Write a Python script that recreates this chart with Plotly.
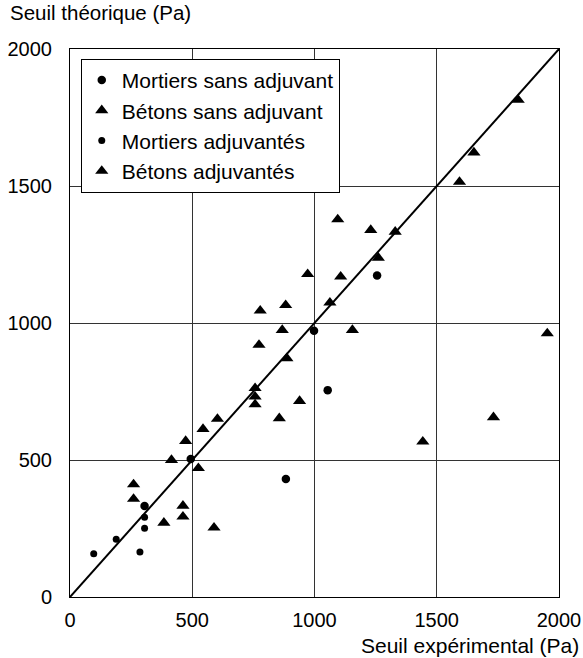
import plotly.graph_objects as go

# Mortiers sans adjuvant (large circles)
mortiers_sans_x = [305, 494, 883, 998, 1054, 1256]
mortiers_sans_y = [332, 504, 431, 972, 755, 1173]

# Mortiers adjuvantés (small circles)
mortiers_adj_x = [97, 189, 286, 305, 305]
mortiers_adj_y = [158, 211, 164, 251, 291]

# Bétons sans adjuvant (triangles)
betons_sans_x = [757, 757, 757, 773, 778, 882, 868, 887, 939, 856, 972, 1107, 1063,
                 1155, 1095, 1230, 1330, 1261, 1443, 1732, 1952, 1833, 1652, 1593]
betons_sans_y = [762, 731, 703, 920, 1045, 1065, 974, 871, 715, 652, 1178, 1169, 1074,
                 974, 1378, 1339, 1333, 1238, 567, 656, 962, 1814, 1622, 1515]

# Bétons adjuvantés (triangles)
betons_adj_x = [473, 415, 525, 260, 260, 462, 462, 384, 589, 544, 603]
betons_adj_y = [569, 500, 470, 411, 358, 333, 293, 271, 253, 613, 650]

ticks = [0, 500, 1000, 1500, 2000]
line_xy = [0, 2000]

FONT = "Liberation Sans, Arial, Helvetica, sans-serif"

fig = go.Figure()

fig.add_trace(go.Scatter(x=line_xy, y=line_xy, mode="lines",
                         line=dict(color="black", width=2), showlegend=False,
                         hoverinfo="skip"))

fig.add_trace(go.Scatter(x=mortiers_sans_x, y=mortiers_sans_y, mode="markers",
                         name="Mortiers sans adjuvant",
                         marker=dict(symbol="circle", size=8.5, color="black")))
fig.add_trace(go.Scatter(x=betons_sans_x, y=betons_sans_y, mode="markers",
                         name="Bétons sans adjuvant",
                         marker=dict(symbol="triangle-up", size=11.5, color="black")))
fig.add_trace(go.Scatter(x=mortiers_adj_x, y=mortiers_adj_y, mode="markers",
                         name="Mortiers adjuvantés",
                         marker=dict(symbol="circle", size=7, color="black")))
fig.add_trace(go.Scatter(x=betons_adj_x, y=betons_adj_y, mode="markers",
                         name="Bétons adjuvantés",
                         marker=dict(symbol="triangle-up", size=11.5, color="black")))

axis_common = dict(
    range=[0, 2000], tickvals=ticks, ticktext=[str(t) for t in ticks],
    showgrid=True, gridcolor="#333333", gridwidth=1,
    showline=True, linecolor="black", linewidth=1, mirror=True,
    zeroline=False, ticks="outside", tickcolor="rgba(0,0,0,0)",
    tickfont=dict(family=FONT, size=20, color="black"),
    automargin=False,
)

fig.update_xaxes(**axis_common, ticklen=5)
fig.update_yaxes(**axis_common, ticklen=13)

fig.update_layout(
    width=583, height=658,
    margin=dict(l=70, r=24, t=49, b=61),
    paper_bgcolor="white", plot_bgcolor="white",
    font=dict(family=FONT, size=20, color="black"),
    showlegend=True,
    legend=dict(x=0.022, y=0.982, xanchor="left", yanchor="top",
                bgcolor="white", bordercolor="black", borderwidth=1,
                font=dict(family=FONT, size=21, color="black"),
                itemsizing="trace"),
    annotations=[
        dict(text="Seuil théorique (Pa)", xref="paper", yref="paper",
             x=-0.127, y=1.067, xanchor="left", yanchor="middle", showarrow=False,
             font=dict(family=FONT, size=20.5, color="black")),
        dict(text="Seuil expérimental (Pa)", xref="paper", yref="paper",
             x=1.045, y=-0.088, xanchor="right", yanchor="middle", showarrow=False,
             font=dict(family=FONT, size=21, color="black")),
    ],
)

fig.write_html("out.html")
